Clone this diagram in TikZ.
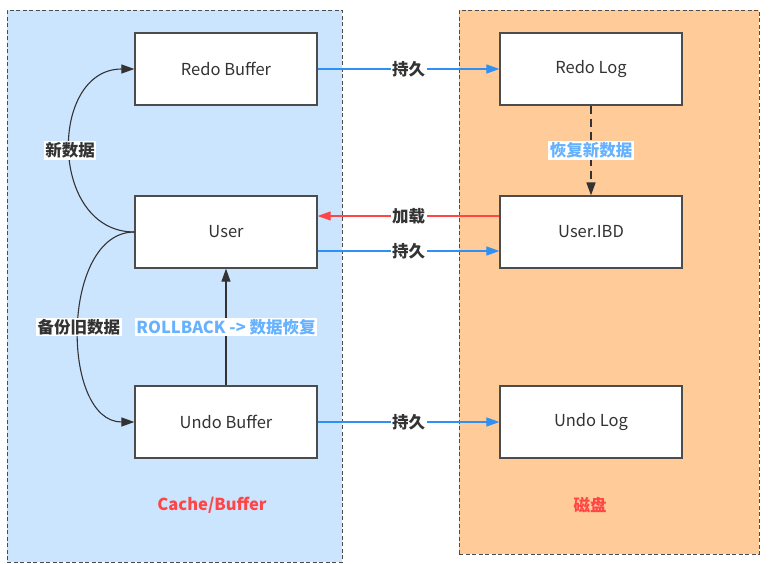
\documentclass[tikz,border=0pt]{standalone}
\usepackage{fontspec}
\setmainfont{Noto Sans CJK SC}
\usetikzlibrary{arrows.meta}
\definecolor{cachefill}{HTML}{CCE5FF}
\definecolor{diskfill}{HTML}{FFCB99}
\definecolor{persistblue}{HTML}{2E90F5}
\definecolor{loadred}{HTML}{FF4545}
\definecolor{hintblue}{HTML}{66B2FF}
\definecolor{inkgray}{HTML}{333333}
\tikzset{
	area/.style={
		rectangle,
		draw=black!70,
		dash pattern=on 4pt off 2.5pt,
		line width=1pt,
	},
	block/.style={
		rectangle,
		draw=black!70,
		fill=white,
		line width=1.2pt,
		minimum width=182pt,
		minimum height=72pt,
		text=inkgray,
		font=\fontsize{16.5}{20}\selectfont,
	},
	title/.style={
		text=loadred,
		font=\fontsize{16.5}{20}\selectfont\bfseries,
	},
	tag/.style={
		fill=white,
		inner sep=1.5pt,
		text=inkgray,
		font=\fontsize{16.5}{20}\selectfont\bfseries,
	},
	arrow/.style={
		-{Triangle[length=13pt,width=9pt]},
		draw=inkgray,
		line width=1.1pt,
	},
	persist/.style={
		arrow,
		draw=persistblue,
	},
	load/.style={
		arrow,
		draw=loadred,
	},
}
\begin{document}
\begin{tikzpicture}[x=1pt,y=-1pt]
		\useasboundingbox (0,0) rectangle (774,563);

		% Cache and disk regions
		\node[area, fill=cachefill, minimum width=335pt, minimum height=552pt] (cache) at (174.5,286) {};
		\node[area, fill=diskfill, minimum width=300pt, minimum height=544pt] (disk) at (609,282) {};
		\node[title] (cachetitle) at (212,505) {Cache/Buffer};
		\node[title] (disktitle) at (590,505) {磁盘};

		% Memory side
		\node[block] (redobuf) at (226,69) {Redo Buffer};
		\node[block] (user) at (226,232) {User};
		\node[block] (undobuf) at (226,422) {Undo Buffer};

		% Disk side
		\node[block] (redolog) at (591,69) {Redo Log};
		\node[block] (ibd) at (591,232) {User.IBD};
		\node[block] (undolog) at (591,422) {Undo Log};

		\draw[persist] (redobuf) -- node[tag] {持久} (redolog) ;
		\draw[load] ([yshift=16pt]ibd.west) -- node[tag] {加载} ([yshift=16pt]user.east) ;
		\draw[persist] ([yshift=-19pt]user.east) -- node[tag] {持久} ([yshift=-19pt]ibd.west) ;
		\draw[persist] (undobuf) -- node[tag] {持久} (undolog) ;

		\draw[arrow, line width=1.6pt, dash pattern=on 8pt off 5pt] (redolog) -- node[tag, text=hintblue] {恢复新数据} (ibd) ;
		\draw[arrow] (undobuf) -- node[tag, text=hintblue] {ROLLBACK -> 数据恢复} (user) ;

		\draw[arrow] (user.west) to[out=180, in=180, looseness=1.35] node[tag] {新数据} (redobuf.west) ;
		\draw[arrow] (user.west) to[out=180, in=180] node[tag] {备份旧数据} (undobuf.west) ;

	\end{tikzpicture}
\end{document}
